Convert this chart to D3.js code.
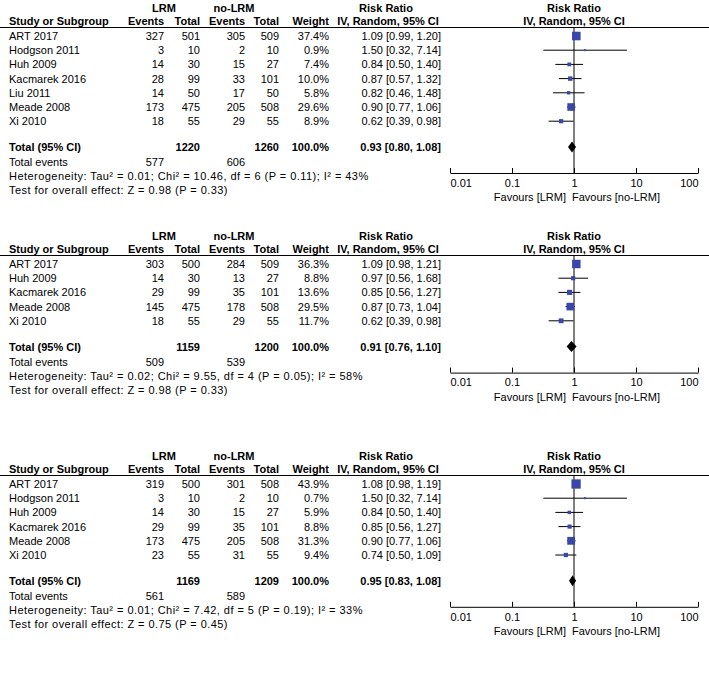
<!DOCTYPE html>
<html>
<head>
<meta charset="utf-8">
<script src="https://cdn.jsdelivr.net/npm/d3@7"></script>
<style>
  body { margin: 0; background: #fff; }
  text { font-family: "Liberation Sans", Arial, sans-serif; font-size: 11px; fill: #000; }
  .bold { font-weight: bold; }
</style>
</head>
<body>
<script>
// ---- data: panel A
const studiesA = ["ART 2017", "Hodgson 2011", "Huh 2009", "Kacmarek 2016", "Liu 2011", "Meade 2008", "Xi 2010"];
const lrmEventsA = [327, 3, 14, 28, 14, 173, 18];
const lrmTotalA = [501, 10, 30, 99, 50, 475, 55];
const ctlEventsA = [305, 2, 15, 33, 17, 205, 29];
const ctlTotalA = [509, 10, 27, 101, 50, 508, 55];
const weightA = [37.4, 0.9, 7.4, 10.0, 5.8, 29.6, 8.9];
const rrA = [1.09, 1.50, 0.84, 0.87, 0.82, 0.90, 0.62];
const loA = [0.99, 0.32, 0.50, 0.57, 0.46, 0.77, 0.39];
const hiA = [1.20, 7.14, 1.40, 1.32, 1.48, 1.06, 0.98];
const totalsA = [1220, 1260];
const totalEventsA = [577, 606];
const pooledA = [0.93, 0.80, 1.08];
const hetA = "Heterogeneity: Tau\u00b2 = 0.01; Chi\u00b2 = 10.46, df = 6 (P = 0.11); I\u00b2 = 43%";
const testA = "Test for overall effect: Z = 0.98 (P = 0.33)";

// ---- data: panel B
const studiesB = ["ART 2017", "Huh 2009", "Kacmarek 2016", "Meade 2008", "Xi 2010"];
const lrmEventsB = [303, 14, 29, 145, 18];
const lrmTotalB = [500, 30, 99, 475, 55];
const ctlEventsB = [284, 13, 35, 178, 29];
const ctlTotalB = [509, 27, 101, 508, 55];
const weightB = [36.3, 8.8, 13.6, 29.5, 11.7];
const rrB = [1.09, 0.97, 0.85, 0.87, 0.62];
const loB = [0.98, 0.56, 0.56, 0.73, 0.39];
const hiB = [1.21, 1.68, 1.27, 1.04, 0.98];
const totalsB = [1159, 1200];
const totalEventsB = [509, 539];
const pooledB = [0.91, 0.76, 1.10];
const hetB = "Heterogeneity: Tau\u00b2 = 0.02; Chi\u00b2 = 9.55, df = 4 (P = 0.05); I\u00b2 = 58%";
const testB = "Test for overall effect: Z = 0.98 (P = 0.33)";

// ---- data: panel C
const studiesC = ["ART 2017", "Hodgson 2011", "Huh 2009", "Kacmarek 2016", "Meade 2008", "Xi 2010"];
const lrmEventsC = [319, 3, 14, 29, 173, 23];
const lrmTotalC = [500, 10, 30, 99, 475, 55];
const ctlEventsC = [301, 2, 15, 35, 205, 31];
const ctlTotalC = [508, 10, 27, 101, 508, 55];
const weightC = [43.9, 0.7, 5.9, 8.8, 31.3, 9.4];
const rrC = [1.08, 1.50, 0.84, 0.85, 0.90, 0.74];
const loC = [0.98, 0.32, 0.50, 0.56, 0.77, 0.50];
const hiC = [1.19, 7.14, 1.40, 1.27, 1.06, 1.09];
const totalsC = [1169, 1209];
const totalEventsC = [561, 589];
const pooledC = [0.95, 0.83, 1.08];
const hetC = "Heterogeneity: Tau\u00b2 = 0.01; Chi\u00b2 = 7.42, df = 5 (P = 0.19); I\u00b2 = 33%";
const testC = "Test for overall effect: Z = 0.75 (P = 0.45)";

const axisTicks = [0.01, 0.1, 1, 10, 100];
const axisLabels = ["0.01", "0.1", "1", "10", "100"];

// ---- layout
const W = 709, H = 688;
const svg = d3.select("body").append("svg").attr("width", W).attr("height", H);

const panels = [
  {top: 0, studies: studiesA, e1: lrmEventsA, n1: lrmTotalA, e2: ctlEventsA, n2: ctlTotalA, w: weightA, rr: rrA, lo: loA, hi: hiA, totals: totalsA, ev: totalEventsA, pooled: pooledA, het: hetA, test: testA},
  {top: 228, studies: studiesB, e1: lrmEventsB, n1: lrmTotalB, e2: ctlEventsB, n2: ctlTotalB, w: weightB, rr: rrB, lo: loB, hi: hiB, totals: totalsB, ev: totalEventsB, pooled: pooledB, het: hetB, test: testB},
  {top: 448, studies: studiesC, e1: lrmEventsC, n1: lrmTotalC, e2: ctlEventsC, n2: ctlTotalC, w: weightC, rr: rrC, lo: loC, hi: hiC, totals: totalsC, ev: totalEventsC, pooled: pooledC, het: hetC, test: testC}
];

const colX = {study: 9, e1: 164, n1: 200, e2: 245, n2: 279, w: 329, ci: 441};
const rowStep = 14.2, firstRow = 40, lineY = 27.5;

const x = d3.scaleLog().domain([0.01, 100]).range([450, 698]);
const sq = d3.scaleSqrt().domain([0, 100]).range([0, 14]);
const f2 = d3.format(".2f");
const ciText = (r, l, h) => f2(r) + " [" + f2(l) + ", " + f2(h) + "]";

function txt(g, xp, yp, s, anchor, bold) {
  return g.append("text").attr("x", xp).attr("y", yp)
    .attr("text-anchor", anchor || "start")
    .attr("class", bold ? "bold" : null)
    .text(s);
}

// the original font has much wider "=" signs; stretch the stat lines a bit
function widen(t) {
  const len = t.node().getComputedTextLength();
  t.attr("textLength", len * 1.095).attr("lengthAdjust", "spacing");
}

panels.forEach(function(p) {
  const g = svg.append("g").attr("transform", "translate(0," + p.top + ")");
  const k = p.studies.length;
  const rowY = i => firstRow + i * rowStep;
  const totalY = rowY(k - 1) + 25.8;
  const axisY = totalY + 22;

  // header
  txt(g, 164, 12, "LRM", "middle", true);
  txt(g, 234, 12, "no-LRM", "middle", true);
  txt(g, 386, 12, "Risk Ratio", "middle", true);
  txt(g, 574, 12, "Risk Ratio", "middle", true);
  txt(g, colX.study, 25, "Study or Subgroup", "start", true);
  txt(g, colX.e1, 25, "Events", "end", true);
  txt(g, colX.n1, 25, "Total", "end", true);
  txt(g, colX.e2, 25, "Events", "end", true);
  txt(g, colX.n2, 25, "Total", "end", true);
  txt(g, colX.w, 25, "Weight", "end", true);
  txt(g, 388, 25, "IV, Random, 95% CI", "middle", true);
  txt(g, 574, 25, "IV, Random, 95% CI", "middle", true);
  g.append("line").attr("x1", 0).attr("x2", W).attr("y1", lineY).attr("y2", lineY)
    .attr("stroke", "#000").attr("stroke-width", 1);

  // study rows
  p.studies.forEach(function(s, i) {
    const y = rowY(i);
    txt(g, colX.study, y, s);
    txt(g, colX.e1, y, p.e1[i], "end");
    txt(g, colX.n1, y, p.n1[i], "end");
    txt(g, colX.e2, y, p.e2[i], "end");
    txt(g, colX.n2, y, p.n2[i], "end");
    txt(g, colX.w, y, p.w[i].toFixed(1) + "%", "end");
    txt(g, colX.ci, y, ciText(p.rr[i], p.lo[i], p.hi[i]), "end");
  });

  // totals
  txt(g, colX.study, totalY, "Total (95% CI)", "start", true);
  txt(g, colX.n1, totalY, p.totals[0], "end", true);
  txt(g, colX.n2, totalY, p.totals[1], "end", true);
  txt(g, colX.w, totalY, "100.0%", "end", true);
  txt(g, colX.ci, totalY, ciText(p.pooled[0], p.pooled[1], p.pooled[2]), "end", true);
  txt(g, colX.study, totalY + 15, "Total events");
  txt(g, colX.e1, totalY + 15, p.ev[0], "end");
  txt(g, colX.e2, totalY + 15, p.ev[1], "end");
  widen(txt(g, colX.study, totalY + 29, p.het));
  widen(txt(g, colX.study, totalY + 43, p.test));

  // null line
  g.append("line").attr("x1", x(1)).attr("x2", x(1)).attr("y1", lineY).attr("y2", axisY)
    .attr("stroke", "#000").attr("stroke-width", 1);

  // CI lines and squares
  const marks = g.append("g");
  marks.selectAll("line.ci").data(p.studies).enter().append("line")
    .attr("class", "ci")
    .attr("x1", (d, i) => x(p.lo[i])).attr("x2", (d, i) => x(p.hi[i]))
    .attr("y1", (d, i) => rowY(i) - 4).attr("y2", (d, i) => rowY(i) - 4)
    .attr("stroke", "#000").attr("stroke-width", 1);
  marks.selectAll("rect").data(p.studies).enter().append("rect")
    .attr("x", (d, i) => x(p.rr[i]) - Math.max(sq(p.w[i]), 2) / 2)
    .attr("y", (d, i) => rowY(i) - 4 - Math.max(sq(p.w[i]), 2) / 2)
    .attr("width", (d, i) => Math.max(sq(p.w[i]), 2))
    .attr("height", (d, i) => Math.max(sq(p.w[i]), 2))
    .attr("fill", "#3a46a8");

  // pooled diamond
  const dy = totalY - 4;
  g.append("path")
    .attr("d", "M" + x(p.pooled[1]) + "," + dy + "L" + x(p.pooled[0]) + "," + (dy - 5.5) +
      "L" + x(p.pooled[2]) + "," + dy + "L" + x(p.pooled[0]) + "," + (dy + 5.5) + "Z")
    .attr("fill", "#000");

  // axis
  const axis = d3.axisBottom(x).tickValues(axisTicks)
    .tickFormat((d, i) => axisLabels[i])
    .tickSizeInner(-5).tickSizeOuter(0).tickPadding(6);
  const ag = g.append("g").attr("transform", "translate(0," + axisY + ")").call(axis);
  ag.selectAll("text").style("font-size", "11px").style("font-family", null);
  ag.selectAll(".tick").filter((d, i) => i === 0).select("text").attr("text-anchor", "start");
  ag.selectAll(".tick").filter((d, i) => i === axisTicks.length - 1).select("text").attr("text-anchor", "end");
  ag.select(".domain").attr("stroke", "#000");
  ag.selectAll(".tick line").attr("stroke", "#000");

  txt(g, 566, axisY + 28, "Favours [LRM]", "end");
  txt(g, 572, axisY + 28, "Favours [no-LRM]", "start");
});
</script>
</body>
</html>
